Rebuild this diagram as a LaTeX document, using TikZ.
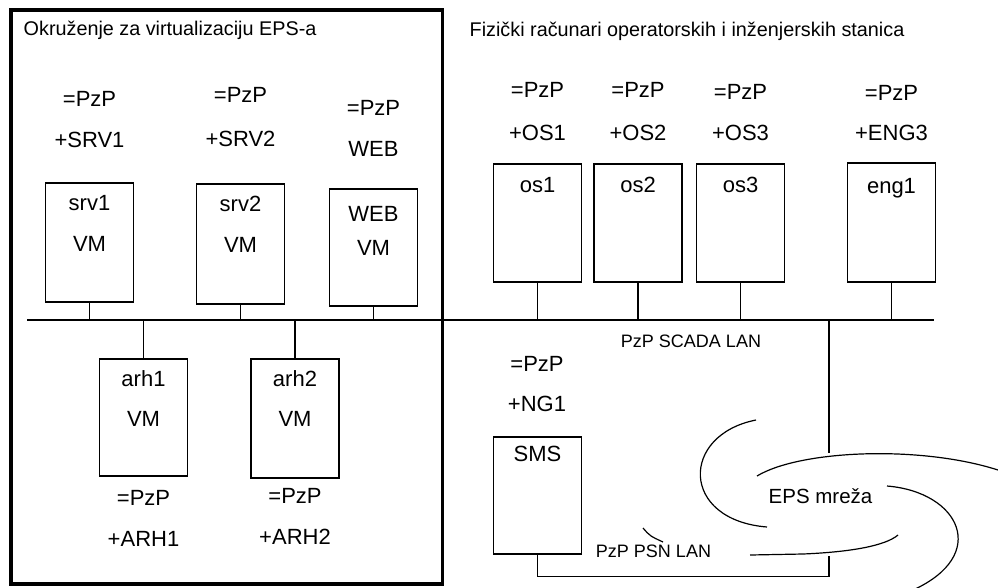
\documentclass[tikz,border=0pt]{standalone}
\usepackage{fontspec}
\setmainfont{Liberation Sans}
\usetikzlibrary{positioning}

\begin{document}
\begin{tikzpicture}[x=1pt,y=-1pt,line width=1.4pt,
  dev/.style={draw,rectangle,minimum width=88pt,inner sep=0pt},
  txt/.style={inner sep=0pt,text height=.72em,text depth=0pt,font=\fontsize{22}{26}\selectfont},
  ttl/.style={txt,anchor=west,font=\fontsize{19.8}{24}\selectfont},
  lan/.style={txt,font=\fontsize{18}{22}\selectfont},
  cloud/.style={line width=1.2pt}]
\useasboundingbox (0,0) rectangle (998,587);
% virtualisation frame and titles
\draw[line width=3.5pt] (11,10) rectangle (442.5,584);
\node[ttl] (ttlL) at (23,32) {Okruženje za virtualizaciju EPS-a};
\node[ttl] (ttlR) at (469,33) {Fizički računari operatorskih i inženjerskih stanica};
% SCADA bus
\coordinate (busL) at (27,320); \coordinate (busR) at (934,320);
\draw (busL) -- (busR);
\node[lan] (scada) at (691,344) {PzP SCADA LAN};
% stations above the bus
\foreach \id/\x/\yt/\yb/\ya/\yp/\tag/\nm/\yn in {srv1/89.5/183/302/103/144/+SRV1/srv1/207,srv2/240.5/184/304/99/143/+SRV2/srv2/208,web/373.5/189/306/112/153/WEB/WEB/218,os1/537.5/164/282/94/137/+OS1/os1/189,os2/638/164/282/94/137/+OS2/os2/189,os3/740.5/164/282/96/137/+OS3/os3/189,eng1/891.5/163/282/97/137/+ENG3/eng1/190}{
  \node[dev,minimum height=\yb-\yt] (\id) at (\x,{(\yt+\yb)/2}) {};
  \node[txt] (\id-a) at (\x,\ya) {=PzP};
  \node[txt] (\id-b) at (\x,\yp) {\tag};
  \node[txt] (\id-n) at (\x,\yn) {\nm};
  \draw (\id.south) -- (\id.south |- busL);
}
% archive VMs below the bus
\foreach \id/\x/\yb/\ya/\yp/\tag in {arh1/143.5/476/502/543/+ARH1,arh2/295/478/500/541/+ARH2}{
  \node[dev,minimum height=\yb-359] (\id) at (\x,{(359+\yb)/2}) {};
  \node[txt] (\id-n) at (\x,383) {\id};
  \node[txt] (\id-a) at (\x,\ya) {=PzP};
  \node[txt] (\id-b) at (\x,\yp) {\tag};
  \draw (\id.north) -- (\id.north |- busL);
}
\foreach \id/\x/\y in {srv1/89.5/248,srv2/240.5/249,web/373.5/252,arh1/143.5/423,arh2/295/423}
  \node[txt] (\id-vm) at (\x,\y) {VM};
% SMS and PSN LAN
\node[dev,minimum height=117] (sms) at (537.5,495.5) {};
\node[txt] (sms-n) at (537.5,458) {SMS};
\node[txt] (sms-a) at (537,368) {=PzP};
\node[txt] (sms-b) at (537,408) {+NG1};
\coordinate (psn) at (829,556); \coordinate (eps1) at (829,453);
\draw (sms.south) -- ++(0,22) -| (psn);
\node[lan] (psnlan) at (653.5,554) {PzP PSN LAN};
\draw (eps1 |- busL) -- (eps1);
% EPS cloud
\node[txt,font=\fontsize{20.5}{24}\selectfont] (eps) at (820.5,500) {EPS mreža};
\draw[cloud] (756,420) .. controls (680,435) and (680,520) .. (767,527);
\draw[cloud] (757,476) .. controls (800,450) and (920,445) .. (998,470);
\draw[cloud] (887,486) .. controls (960,492) and (990,555) .. (913,590);
\draw[cloud] (750,555) -- (803,554) .. controls (850,552) and (885,546) .. (898,535);
\draw[cloud] (643,528) .. controls (650,536) .. (663,542);
\end{tikzpicture}
\end{document}
